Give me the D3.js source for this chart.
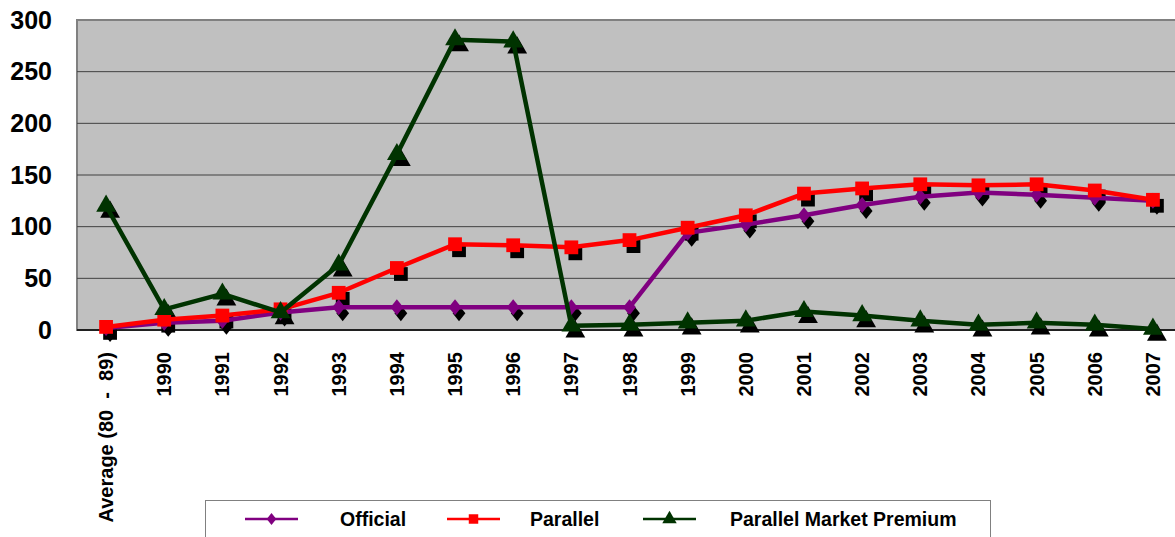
<!DOCTYPE html>
<html>
<head>
<meta charset="utf-8">
<script src="https://cdn.jsdelivr.net/npm/d3@7/dist/d3.min.js"></script>
<style>
  html, body { margin: 0; padding: 0; background: #fff; }
  svg { display: block; font-family: "Liberation Sans", Arial, sans-serif; font-weight: bold; }
</style>
</head>
<body>
<div id="chart"></div>
<script>
// categories and series
const categories = ['Average (80  -  89)', '1990', '1991', '1992', '1993', '1994', '1995', '1996', '1997',
  '1998', '1999', '2000', '2001', '2002', '2003', '2004', '2005', '2006', '2007'];
const official = [2, 7, 9, 17, 22, 22, 22, 22, 22, 22, 94, 102, 111, 121, 129, 133, 131, 128, 125];
const parallel = [3, 10, 14, 20, 36, 60, 83, 82, 80, 87, 99, 111, 132, 137, 141, 140, 141, 135, 126];
const premium = [120, 20, 35, 17, 63, 170, 281, 279, 4, 5, 7, 9, 18, 14, 9, 5, 7, 5, 1];
const yTicks = [0, 50, 100, 150, 200, 250, 300];

const W = 1175, H = 537;
const plot = { left: 77, top: 20, right: 1182, bottom: 330 };

const svg = d3.select('#chart').append('svg')
  .attr('width', W)
  .attr('height', H);

const x = d3.scalePoint()
  .domain(categories)
  .range([plot.left, plot.right])
  .padding(0.5);

const y = d3.scaleLinear()
  .domain([0, 300])
  .range([plot.bottom, plot.top]);

//plot background
svg.append('rect')
  .attr('x', plot.left)
  .attr('y', plot.top)
  .attr('width', plot.right - plot.left)
  .attr('height', plot.bottom - plot.top)
  .attr('fill', '#c0c0c0')
  .attr('stroke', '#808080')
  .attr('stroke-width', 2);

//grid lines
svg.selectAll('.grid')
  .data(yTicks.filter(d => d > 0 && d < 300))
  .enter().append('line')
  .attr('class', 'grid')
  .attr('x1', plot.left)
  .attr('x2', plot.right)
  .attr('y1', d => y(d))
  .attr('y2', d => y(d))
  .attr('stroke', '#404040')
  .attr('stroke-width', 1);

//y axis labels
const yAxis = d3.axisLeft(y).tickValues(yTicks).tickSize(0).tickPadding(25);
const gy = svg.append('g')
  .attr('transform', `translate(${plot.left},0)`)
  .call(yAxis);
gy.select('.domain').remove();
gy.selectAll('text')
  .style('font-size', '25px')
  .style('font-weight', 'bold')
  .style('font-family', '"Liberation Sans", Arial, sans-serif')
  .attr('fill', '#000');

//bottom axis line
svg.append('line')
  .attr('x1', plot.left)
  .attr('x2', plot.right)
  .attr('y1', plot.bottom)
  .attr('y2', plot.bottom)
  .attr('stroke', '#000')
  .attr('stroke-width', 1.5);

//x labels, rotated
svg.selectAll('.xlab')
  .data(categories)
  .enter().append('text')
  .attr('class', 'xlab')
  .attr('transform', d => `translate(${x(d) + 7},${plot.bottom + 22}) rotate(-90)`)
  .attr('text-anchor', 'end')
  .style('font-size', '20px')
  .style('white-space', 'pre')
  .text(d => d);

// marker shapes
function diamondPath(s) {
  return `M0,${-s}L${s * 0.8},0L0,${s}L${-s * 0.8},0Z`;
}
function markerPath(kind) {
  if (kind === 'diamond') return diamondPath(8);
  if (kind === 'square') return d3.symbol().type(d3.symbolSquare).size(190)();
  return d3.symbol().type(d3.symbolTriangle).size(170)();
}

const series = [
  { name: 'Official', values: official, color: '#800080', marker: 'diamond' },
  { name: 'Parallel', values: parallel, color: '#ff0000', marker: 'square' },
  { name: 'Parallel Market Premium', values: premium, color: '#003300', marker: 'triangle' }
];

const line = d3.line()
  .x((d, i) => x(categories[i]))
  .y(d => y(d));

//shadows first
series.forEach(s => {
  svg.append('g').selectAll('path')
    .data(s.values)
    .enter().append('path')
    .attr('d', markerPath(s.marker))
    .attr('transform', (d, i) => `translate(${x(categories[i]) + 4},${y(d) + 6})`)
    .attr('fill', '#000');
});

series.forEach(s => {
  svg.append('path')
    .datum(s.values)
    .attr('d', line)
    .attr('fill', 'none')
    .attr('stroke', s.color)
    .attr('stroke-width', 4.5)
    .attr('stroke-linejoin', 'round');
  svg.append('g').selectAll('path')
    .data(s.values)
    .enter().append('path')
    .attr('d', markerPath(s.marker))
    .attr('transform', (d, i) => `translate(${x(categories[i])},${y(d)})`)
    .attr('fill', s.color);
});

//legend
const legend = svg.append('g');
legend.append('rect')
  .attr('x', 205.5)
  .attr('y', 500.5)
  .attr('width', 785)
  .attr('height', 60)
  .attr('fill', '#fff')
  .attr('stroke', '#808080')
  .attr('stroke-width', 1);

const legX = [245, 447, 643];
const legText = [340, 530, 730];
series.forEach((s, i) => {
  const cy = 519;
  legend.append('line')
    .attr('x1', legX[i]).attr('x2', legX[i] + 53)
    .attr('y1', cy).attr('y2', cy)
    .attr('stroke', s.color)
    .attr('stroke-width', 2.5);
  legend.append('path')
    .attr('d', s.marker === 'diamond' ? diamondPath(6) : d3.symbol().type(s.marker === 'square' ? d3.symbolSquare : d3.symbolTriangle).size(90)())
    .attr('transform', `translate(${legX[i] + 26.5},${cy})`)
    .attr('fill', s.color);
  legend.append('text')
    .attr('x', legText[i])
    .attr('y', cy + 7)
    .style('font-size', '19.5px')
    .text(s.name);
});
</script>
</body>
</html>
